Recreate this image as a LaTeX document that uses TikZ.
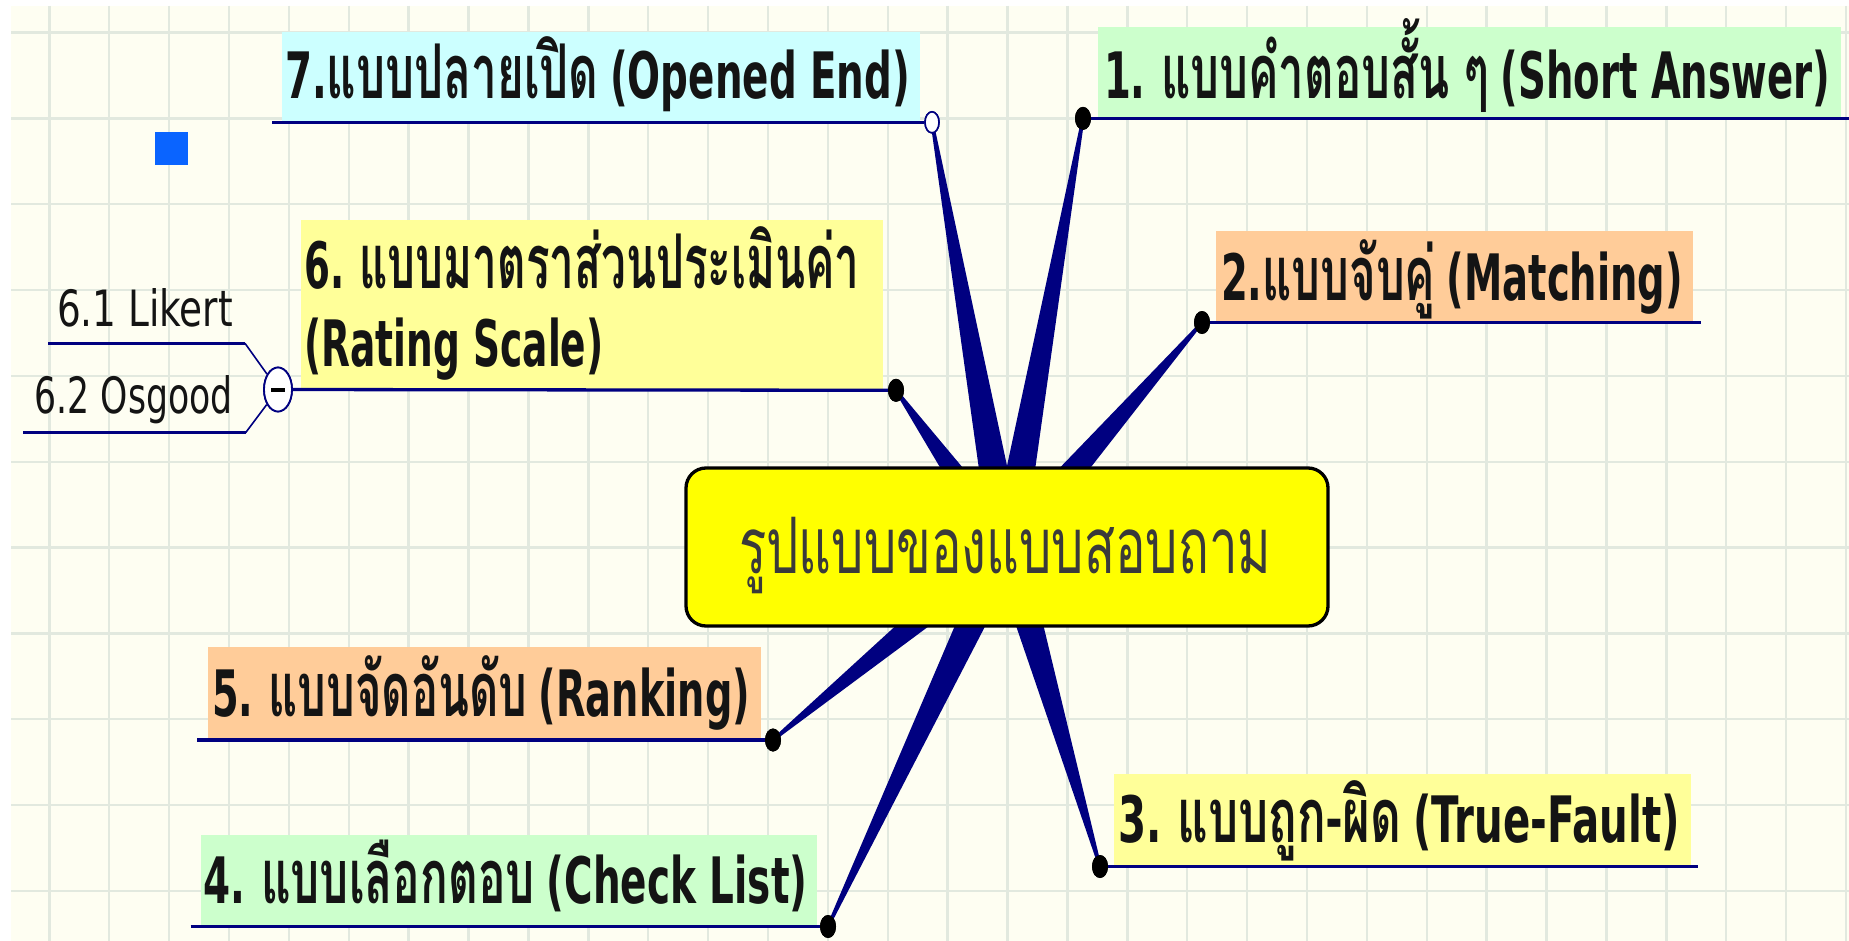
\documentclass[tikz,border=0pt]{standalone}
\usepackage{fontspec}
\usepackage{graphicx}
\usetikzlibrary{calc,shapes.geometric}
\newfontfamily\thaif[Script=Thai,Scale=1.18]{Loma}
\newfontfamily\latf{DejaVu Sans}
\newcommand{\thx}[1]{{\thaif #1}}
\newcommand{\thb}[1]{{\thaif\bfseries #1}}
\newcommand{\lax}[1]{{\latf #1}}
\newcommand{\lab}[1]{{\latf\bfseries #1}}
\newcommand{\fitw}[2]{\resizebox{#1pt}{\height}{#2}}
\definecolor{navy}{HTML}{000080}
\definecolor{bgcream}{HTML}{FEFEF2}
\definecolor{gridc}{HTML}{E2E9DF}
\definecolor{boxcyan}{HTML}{CCFFFF}
\definecolor{boxgreen}{HTML}{CCFFCC}
\definecolor{boxorange}{HTML}{FFCC99}
\definecolor{boxyellow}{HTML}{FFFF99}
\definecolor{centeryellow}{HTML}{FFFF00}
\definecolor{sqblue}{HTML}{0A64FF}
\definecolor{txt}{HTML}{141414}
\definecolor{ctxt}{HTML}{3A3A3A}
\tikzset{
  gridline/.style={draw=gridc, line width=2.4},
  bgbox/.style={anchor=north west, inner sep=0, outer sep=0, draw=none},
  btext/.style={anchor=base west, inner sep=0, outer sep=0, text=txt, font=\fontsize{64}{70}\selectfont},
  stext/.style={anchor=base west, inner sep=0, outer sep=0, text=txt, font=\fontsize{50}{56}\selectfont},
  uline/.style={draw=navy, line width=3.3},
  subline/.style={draw=navy, line width=1.6},
  dotnode/.style={ellipse, fill=black, inner sep=0, outer sep=0, minimum width=16, minimum height=23},
  odot/.style={ellipse, draw=navy, fill=white, line width=1.6, inner sep=0, minimum width=14, minimum height=21},
  subcirc/.style={ellipse, draw=navy, fill=white, line width=1.8, inner sep=0, minimum width=28, minimum height=44},
}
\newcommand{\spokeTo}[1]{\fill[navy] ($(cc)!17pt!90:(#1.center)$) -- ($(#1.center)!1.5pt!-90:(cc)$) -- ($(#1.center)!1.5pt!90:(cc)$) -- ($(cc)!17pt!-90:(#1.center)$) -- cycle;}
\begin{document}
\begin{tikzpicture}[x=1pt,y=-1pt]
\useasboundingbox (0,0) rectangle (1849,941);
\fill[white] (0,0) rectangle (1849,941);
\fill[bgcream] (11,6) rectangle (1849,941);
\begin{scope}
\clip (11,6) rectangle (1849,941);
\foreach \k in {0,...,30} \draw[gridline] ({49.3+59.89*\k},6) -- ({49.3+59.89*\k},941);
\foreach \k in {0,...,10} \draw[gridline] (11,{32.7+85.8*\k}) -- (1849,{32.7+85.8*\k});
\end{scope}

% boxes
\node[bgbox, fill=boxcyan, minimum width=638.5, minimum height=90.3] (b7) at (281.5,31.7) {};
\node[bgbox, fill=boxgreen, minimum width=743.5, minimum height=91] (b1) at (1097.5,27.3) {};
\node[bgbox, fill=boxorange, minimum width=477, minimum height=91.5] (b2) at (1216,231) {};
\node[bgbox, fill=boxyellow, minimum width=582.5, minimum height=170] (b6) at (300.5,220) {};
\node[bgbox, fill=boxorange, minimum width=553.3, minimum height=93.3] (b5) at (207.7,646.7) {};
\node[bgbox, fill=boxgreen, minimum width=616.3, minimum height=91.5] (b4) at (200.5,835) {};
\node[bgbox, fill=boxyellow, minimum width=577.5, minimum height=92.5] (b3) at (1113.5,774) {};

% end points
\coordinate (cc) at (1007,547);
\node[odot] (o7) at (932,122.3) {};
\node[dotnode] (d1) at (1083,118.4) {};
\node[dotnode] (d2) at (1202,322.5) {};
\node[dotnode] (d6) at (896,390.3) {};
\node[dotnode] (d5) at (773,740) {};
\node[dotnode] (d4) at (828,926.5) {};
\node[dotnode] (d3) at (1100,866.5) {};
\node[subcirc] (c6) at (278,389.5) {};

\coordinate (l7) at (272,122.3);
\coordinate (r1) at (1849,118.4);
\coordinate (r2) at (1701,322.5);
\coordinate (r3) at (1698,866.5);
\coordinate (l5) at (197.4,740);
\coordinate (l4) at (190.7,926.5);
\coordinate (s1a) at (48,343.3);
\coordinate (s1b) at (245,343.3);
\coordinate (s2a) at (23,432.7);
\coordinate (s2b) at (245.6,432.7);

% underlines
\draw[uline] (l7) -- (o7);
\draw[uline] (d1) -- (r1);
\draw[uline] (d2) -- (r2);
\draw[uline] (c6) -- (d6);
\draw[uline] (l5) -- (d5);
\draw[uline] (l4) -- (d4);
\draw[uline] (d3) -- (r3);
\draw[uline] (s1a) -- (s1b);
\draw[uline] (s2a) -- (s2b);
\draw[subline] (s1b) -- (c6);
\draw[subline] (s2b) -- (c6);

% spokes
\spokeTo{o7}
\spokeTo{d1}
\spokeTo{d2}
\spokeTo{d6}
\spokeTo{d5}
\spokeTo{d4}
\spokeTo{d3}

% redraw end points on top
\node[odot] (o7b) at (o7.center) {};
\foreach \n in {d1,d2,d6,d5,d4,d3} \node[dotnode] at (\n.center) {};
\node[subcirc] (c6b) at (c6.center) {};
\draw[line width=3.2, black] ($(c6.center)+(-7,0.5)$) -- ($(c6.center)+(7,0.5)$);

% texts
\node[btext] (t7) at (285,99) {\fitw{625}{\lab{7.}\thb{แบบปลายเปิด} \lab{(Opened End)}}};
\node[btext] (t1) at (1104,98.3) {\fitw{726}{\lab{1.} \thb{แบบคำตอบสั้น ๆ} \lab{(Short Answer)}}};
\node[btext] (t2) at (1221,300) {\fitw{462}{\lab{2.}\thb{แบบจับคู่} \lab{(Matching)}}};
\node[btext] (t6a) at (304.5,288) {\fitw{555}{\lab{6.} \thb{แบบมาตราส่วนประเมินค่า}}};
\node[btext] (t6b) at (304.5,366.7) {\fitw{299}{\lab{(Rating Scale)}}};
\node[btext] (t5) at (212,716) {\fitw{538}{\lab{5.} \thb{แบบจัดอันดับ} \lab{(Ranking)}}};
\node[btext] (t4) at (203.5,903) {\fitw{604}{\lab{4.} \thb{แบบเลือกตอบ} \lab{(Check List)}}};
\node[btext] (t3) at (1118,842) {\fitw{562}{\lab{3.} \thb{แบบถูก-ผิด} \lab{(True-Fault)}}};
\node[stext] (t61) at (57,326.7) {\fitw{176}{\lax{6.1 Likert}}};
\node[stext] (t62) at (34.7,413) {\fitw{198}{\lax{6.2 Osgood}}};

% center
\node[draw=black, line width=3.3, fill=centeryellow, rounded corners=20, minimum width=642, minimum height=158, inner sep=0] (c) at (cc) {};
\node[anchor=base west, inner sep=0, text=ctxt, font=\fontsize{66}{72}\selectfont] (tc) at (739,573) {\fitw{532}{\thx{รูปแบบของแบบสอบถาม}}};

% square
\node[anchor=north west, fill=sqblue, minimum width=33, minimum height=32.5, inner sep=0] (sq) at (155,132) {};
\end{tikzpicture}
\end{document}
